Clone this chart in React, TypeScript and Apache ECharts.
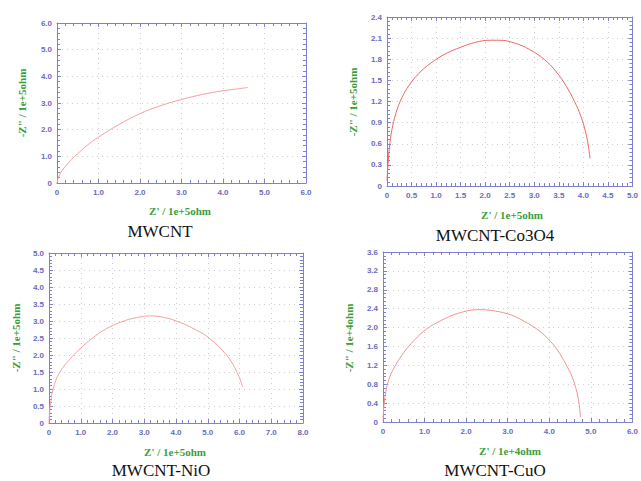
import React, { useEffect, useRef } from "react";
import * as echarts from "echarts";

const mwcntX = [0, 0.02, 0.06, 0.12, 0.22, 0.35, 0.5, 0.7, 1.0, 1.5, 2.0, 2.5, 3.0, 3.5, 4.0, 4.3, 4.6];
const mwcntY = [0, 0.14, 0.3, 0.46, 0.66, 0.88, 1.1, 1.38, 1.72, 2.2, 2.6, 2.9, 3.13, 3.32, 3.46, 3.52, 3.58];

const coX = [0, 0.02, 0.05, 0.1, 0.18, 0.3, 0.45, 0.65, 0.9, 1.2, 1.5, 1.8, 2.1, 2.3, 2.6, 2.9, 3.2, 3.45, 3.65, 3.82, 3.95, 4.04, 4.1, 4.135];
const coY = [0.08, 0.3, 0.55, 0.8, 1.03, 1.25, 1.43, 1.6, 1.75, 1.88, 1.97, 2.04, 2.07, 2.07, 2.03, 1.94, 1.8, 1.62, 1.42, 1.2, 0.99, 0.78, 0.58, 0.39];

const niX = [0, 0.01, 0.04, 0.13, 0.34, 0.73, 1.0, 1.33, 1.8, 2.3, 2.75, 3.2, 3.6, 4.01, 4.5, 5.04, 5.59, 5.92, 6.1];
const niY = [0, 0.2, 0.5, 1.0, 1.5, 1.95, 2.2, 2.47, 2.77, 2.98, 3.1, 3.15, 3.11, 3.0, 2.8, 2.5, 2.0, 1.5, 1.06];

const cuX = [0, 0.01, 0.03, 0.08, 0.17, 0.3, 0.5, 0.75, 1.05, 1.4, 1.8, 2.3, 2.7, 3.1, 3.4, 3.7, 3.95, 4.2, 4.4, 4.55, 4.65, 4.71, 4.75];
const cuY = [0.03, 0.2, 0.4, 0.7, 0.97, 1.2, 1.47, 1.73, 1.97, 2.15, 2.3, 2.38, 2.35, 2.26, 2.13, 1.97, 1.78, 1.52, 1.22, 0.95, 0.68, 0.42, 0.1];

const captions = ["MWCNT", "MWCNT-Co3O4", "MWCNT-NiO", "MWCNT-CuO"];
const xTitles = ["Z' / 1e+5ohm", "Z' / 1e+5ohm", "Z' / 1e+5ohm", "Z' / 1e+4ohm"];
const yTitles = ['-Z" / 1e+5ohm', '-Z" / 1e+5ohm', '-Z" / 1e+5ohm', '-Z" / 1e+4ohm'];

const xMaxes = [6, 5, 8, 6];
const xIntervals = [1, 0.5, 1, 1];
const yMaxes = [6, 2.4, 5, 3.6];
const yIntervals = [1, 0.3, 0.5, 0.4];

const AXIS = "#8080d0";
const LABEL = "#6b6bc0";
const GREEN = "#3a9e3a";

export default function App() {
  const ref = useRef<HTMLDivElement>(null);
  useEffect(() => {
    if (!ref.current) return;
    const chart = echarts.init(ref.current, undefined, { renderer: "svg" });
    const grids = [
      { left: 57, top: 23, width: 249, height: 160 },
      { left: 387, top: 17, width: 250, height: 169 },
      { left: 49, top: 253, width: 254, height: 170 },
      { left: 383, top: 252, width: 253, height: 170 },
    ];
    const fmt = (v: number) => (v === 0 ? "0" : v.toFixed(1));
    const xAxis: any[] = [];
    const yAxis: any[] = [];
    grids.forEach((_, i) => {
      const common = (max: number, interval: number) => ({
        type: "value",
        min: 0,
        max,
        interval,
        gridIndex: i,
        axisLine: { show: true, onZero: false, lineStyle: { color: AXIS, width: 1 } },
        axisTick: { show: true, inside: true, length: 4, lineStyle: { color: AXIS } },
        minorTick: { show: true, splitNumber: 5, length: 3, lineStyle: { color: AXIS, width: 1 } },
      });
      xAxis.push({
        ...common(xMaxes[i], xIntervals[i]),
        position: "bottom",
        axisLabel: { color: LABEL, fontSize: 8, fontFamily: "Liberation Sans", fontWeight: "bold", margin: 5, formatter: fmt },
        splitLine: { show: true, lineStyle: { color: "#d0d0d0", type: [1, 4] } },
      });
      xAxis.push({
        ...common(xMaxes[i], xIntervals[i]),
        position: "top",
        axisLabel: { show: false },
        splitLine: { show: false },
      });
      yAxis.push({
        ...common(yMaxes[i], yIntervals[i]),
        position: "left",
        axisLabel: { color: LABEL, fontSize: 8, fontFamily: "Liberation Sans", fontWeight: "bold", margin: 5, formatter: fmt },
        splitLine: { show: true, lineStyle: { color: "#d0d0d0", type: [1, 4] } },
      });
      yAxis.push({
        ...common(yMaxes[i], yIntervals[i]),
        position: "right",
        axisLabel: { show: false },
        splitLine: { show: false },
      });
    });
    const datasets = [
      [mwcntX, mwcntY, "#f5a0a0"],
      [coX, coY, "#ee6666"],
      [niX, niY, "#f5a0a0"],
      [cuX, cuY, "#f39292"],
    ] as const;
    const series = datasets.map(([xs, ys, color], i) => ({
      type: "line",
      xAxisIndex: i * 2,
      yAxisIndex: i * 2,
      data: (xs as readonly number[]).map((x, k) => [x, (ys as readonly number[])[k]]),
      smooth: 0.4,
      showSymbol: false,
      lineStyle: { color, width: 1 },
    }));
    const xTitlePos = [
      [180, 211],
      [512, 215],
      [175, 452],
      [510, 451],
    ];
    const yTitlePos = [
      [22, 103],
      [353, 102],
      [16, 338],
      [349, 338],
    ];
    const capPos = [
      [160, 231],
      [495, 235],
      [161, 470],
      [495, 470],
    ];
    const graphic: any[] = [];
    for (let i = 0; i < 4; i++) {
      graphic.push({
        type: "text",
        x: xTitlePos[i][0],
        y: xTitlePos[i][1],
        style: { text: xTitles[i], fill: GREEN, font: "bold 11px 'Liberation Serif'", align: "center", verticalAlign: "middle" },
      });
      graphic.push({
        type: "text",
        x: yTitlePos[i][0],
        y: yTitlePos[i][1],
        rotation: Math.PI / 2,
        style: { text: yTitles[i], fill: GREEN, font: "bold 11px 'Liberation Serif'", align: "center", verticalAlign: "middle" },
      });
      graphic.push({
        type: "text",
        x: capPos[i][0],
        y: capPos[i][1],
        style: { text: captions[i], fill: "#111", font: "17px 'Liberation Serif'", align: "center", verticalAlign: "middle" },
      });
    }
    chart.setOption({
      animation: false,
      backgroundColor: "#ffffff",
      grid: grids,
      xAxis,
      yAxis,
      series,
      graphic,
    });
    return () => chart.dispose();
  }, []);
  return <div ref={ref} style={{ position: "fixed", left: 0, top: 0, width: 641, height: 481 }} />;
}
